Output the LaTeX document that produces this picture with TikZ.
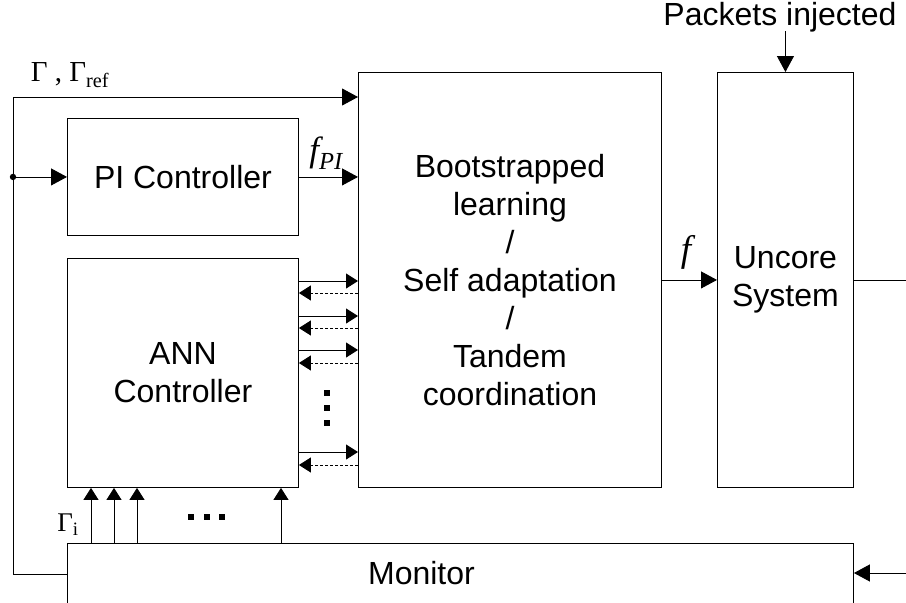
\documentclass[tikz,border=0pt]{standalone}
\usepackage{fontspec}
\setmainfont{Liberation Sans}
\newfontfamily\serifset{Liberation Serif}
\usetikzlibrary{arrows.meta,calc}
\begin{document}
\begin{tikzpicture}[x=1pt,y=-1pt,
  line width=0.9pt,
  box/.style={draw, line width=0.9pt, inner sep=0pt, anchor=north west, align=center,
    font=\fontsize{32}{38}\selectfont},
  lbl/.style={font=\fontsize{32}{38}\selectfont},
  arr/.style={-{Triangle[length=16pt,width=17pt]}},
  sarr/.style={-{Triangle[length=12pt,width=15pt]}},
  dsh/.style={dash pattern=on 3pt off 2pt},
  sq/.style={fill, minimum size=6.5pt, inner sep=0pt}]
\useasboundingbox (0,0) rectangle (906,603);
\clip (0,0) rectangle (906,603);
% boxes
\node[box, minimum width=231pt, minimum height=117pt] (pi) at (67,118) {PI Controller};
\node[box, minimum width=231pt, minimum height=229pt] (ann) at (67,258) {ANN\\Controller};
\node[box, minimum width=303pt, minimum height=415pt] (ctr) at (358,72)
  {Bootstrapped\\learning\\/\\Self adaptation\\/\\Tandem\\coordination};
\node[box, minimum width=136pt, minimum height=415pt] (unc) at (717,72) {Uncore\\System};
\node[box, minimum width=786pt, minimum height=62pt] (mon) at (67,543) {};
\node[lbl] (mont) at ($(mon.center)+(-39,-1)$) {Monitor};
% labels
\node[lbl] (pk) at (780,17) {Packets injected};
\node[font=\serifset\fontsize{29}{29}\selectfont] (g) at (70,75) {Γ , Γ\textsubscript{ref}};
\node[font=\serifset\itshape\fontsize{35}{35}\selectfont] (fpi) at (326,153) {f\textsubscript{PI}};
\node[font=\serifset\itshape\fontsize{37}{37}\selectfont] (f) at (686,252) {f};
\node[font=\serifset\fontsize{27}{27}\selectfont] (gi) at (68,525) {Γ\textsubscript{i}};
% feedback loop
\coordinate (jn) at ($(pi.west)+(-54,0)$);
\coordinate (tp) at ($(ctr.north west)+(0,25)$);
\draw[arr] (mon.west) -| (jn |- tp) -- (tp);
\fill (jn) circle (3.2pt);
\draw[arr] (jn) -- (pi.west);
\draw[arr] (pi.east) -- (pi.east -| ctr.west);
\draw[arr] (ctr.east) -- (unc.west);
\coordinate (ue) at ($(unc.east)+(53,0)$);
\draw (unc.east) -- (ue);
\coordinate (pks) at ($(unc.north)+(0,-41)$);
\draw[arr] (pks) -- (unc.north);
\coordinate (me) at ($(mon.north east)+(53,30)$);
\draw[arr] (me) -- (me -| mon.east);
% ANN <-> center arrows
\foreach \o [count=\i] in {23,58,92,194} {
  \coordinate (s\i) at ($(ann.north east)+(0,\o)$);
  \draw[sarr] (s\i) -- (s\i -| ctr.west);
}
\foreach \o [count=\i] in {35,70,105,207} {
  \coordinate (r\i) at ($(ann.north east)+(0,\o)$);
  \draw[sarr,dsh] (r\i -| ctr.west) -- (r\i);
}
\foreach \o [count=\i] in {135,150,165} {
  \node[sq] (vd\i) at ($(ann.north east)+(28,\o)$) {};
}
% monitor -> ANN arrows
\foreach \o [count=\i] in {24,47,70,214} {
  \coordinate (b\i) at ($(mon.north west)+(\o,0)$);
  \draw[sarr] (b\i) -- (b\i |- ann.south);
}
\foreach \o [count=\i] in {124,140,155} {
  \node[sq] (hd\i) at ($(mon.north west)+(\o,-26)$) {};
}
\end{tikzpicture}
\end{document}
